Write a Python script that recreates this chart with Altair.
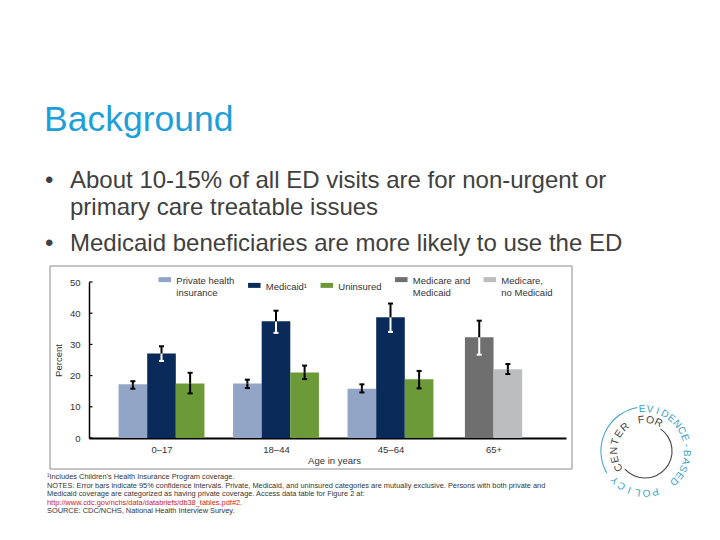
import json
import math
import altair as alt
import pandas as pd

# ---------------- data ----------------
groups = ["0–17", "18–44", "45–64", "65+"]
series = ["Private health insurance", "Medicaid¹", "Uninsured",
          "Medicare and Medicaid", "Medicare, no Medicaid"]
colors = ["#93a5c6", "#0a2b5a", "#6c9a38", "#6f6f70", "#bcbdbf"]

private_val = [17.2, 17.5, 15.8]
private_lo = [15.8, 16.0, 14.6]
private_hi = [18.2, 18.7, 17.2]
medicaid_val = [27.1, 37.4, 38.7]
medicaid_lo = [24.7, 33.7, 34.0]
medicaid_hi = [29.4, 40.8, 43.1]
uninsured_val = [17.5, 21.0, 18.8]
uninsured_lo = [14.3, 18.9, 15.9]
uninsured_hi = [20.9, 23.2, 21.5]
medicare_and_val = [32.3]
medicare_and_lo = [26.7]
medicare_and_hi = [37.6]
medicare_no_val = [22.0]
medicare_no_lo = [20.5]
medicare_no_hi = [23.7]

y_ticks = [0, 10, 20, 30, 40, 50]

legend_lines = {
    "Private health insurance": ["Private health", "insurance"],
    "Medicaid¹": ["Medicaid¹"],
    "Uninsured": ["Uninsured"],
    "Medicare and Medicaid": ["Medicare and", "Medicaid"],
    "Medicare, no Medicaid": ["Medicare,", "no Medicaid"],
}

title_text = "Background"
bullet_lines = [
    "About 10-15% of all ED visits are for non-urgent or",
    "primary care treatable issues",
    "Medicaid beneficiaries are more likely to use the ED",
]
footnotes = [
    "¹Includes Children's Health Insurance Program coverage.",
    "NOTES: Error bars indicate 95% confidence intervals. Private, Medicaid, and uninsured categories are mutually exclusive. Persons with both private and",
    "Medicaid coverage are categorized as having private coverage. Access data table for Figure 2 at:",
    "http://www.cdc.gov/nchs/data/databriefs/db38_tables.pdf#2.",
    "SOURCE: CDC/NCHS, National Health Interview Survey.",
]
logo_outer = "EVIDENCE-BASED"
logo_bottom = "POLICY"
logo_inner = "CENTER FOR"

# ---------------- layout ----------------
group_center = [0, 1, 2, 2.9]
bar_w = 0.25
cap_half = 0.022
dark = {"Medicaid¹", "Medicare and Medicaid"}
FONT = "Liberation Sans"

rows = []
def add(gi, s, off, v, lo, hi):
    xc = group_center[gi] + off * bar_w
    rows.append(dict(group=groups[gi], series=s, value=v, lo=lo, hi=hi,
                     xc=xc, xl=xc - bar_w / 2, xr=xc + bar_w / 2,
                     cl=xc - cap_half, cr=xc + cap_half,
                     lowc="#ffffff" if s in dark else "#000000"))

for i in range(3):
    add(i, series[0], -1, private_val[i], private_lo[i], private_hi[i])
    add(i, series[1], 0, medicaid_val[i], medicaid_lo[i], medicaid_hi[i])
    add(i, series[2], 1, uninsured_val[i], uninsured_lo[i], uninsured_hi[i])
add(3, series[3], -0.5, medicare_and_val[0], medicare_and_lo[0], medicare_and_hi[0])
add(3, series[4], 0.5, medicare_no_val[0], medicare_no_lo[0], medicare_no_hi[0])
df = pd.DataFrame(rows)

xdom = [-0.6332, 3.5328]
xs = alt.Scale(domain=xdom, nice=False, zero=False)
ys = alt.Scale(domain=[0, 50], nice=False)

mids = [(group_center[i] + group_center[i + 1]) / 2 for i in range(len(groups) - 1)]
expr = f"'{groups[-1]}'"
for i in range(len(mids) - 1, -1, -1):
    expr = f"datum.value < {mids[i]} ? '{groups[i]}' : ({expr})"

label_expr = "(" + json.dumps(legend_lines, ensure_ascii=False) + ")[datum.label]"

x_axis = alt.Axis(
    values=group_center, labelExpr=expr, ticks=False, grid=False,
    domainColor="#000000", domainWidth=2, labelPadding=6,
    labelFont=FONT, labelFontSize=9.5, labelColor="#333333",
    labelOverlap=False,
    title="Age in years", titleFont=FONT, titleFontSize=9.5,
    titleFontWeight="normal", titleColor="#333333",
    titleX=245, titleY=25, titleBaseline="alphabetic")
y_axis = alt.Axis(
    values=y_ticks, ticks=False, grid=False, domainColor="#000000",
    domainWidth=1.5, labelPadding=9, labelFont=FONT, labelFontSize=9.5,
    labelColor="#333333", labelOverlap=False, title="Percent", titleFont=FONT,
    titleFontSize=9.5, titleFontWeight="normal", titleColor="#333333",
    titleX=-26, titleY=78)

def X(f):
    return alt.X(f, scale=xs, axis=x_axis)

def Y(f):
    return alt.Y(f, scale=ys, axis=y_axis)

bars = alt.Chart(df).mark_bar().encode(
    x=X("xl:Q"),
    x2="xr:Q",
    y=Y("value:Q"),
    y2=alt.datum(0),
    color=alt.Color("series:N", scale=alt.Scale(domain=series, range=colors),
                    legend=alt.Legend(
                        orient="none", legendX=69.3, legendY=-4.5,
                        direction="horizontal", columns=5, title=None,
                        symbolType="M-1,-1.14H1V-0.34H-1Z", symbolSize=156,
                        symbolStrokeWidth=0, symbolOpacity=1,
                        labelFont=FONT, labelFontSize=9.5, labelColor="#333333",
                        labelOffset=5, columnPadding=12.5, labelLimit=0,
                        labelBaseline="alphabetic", padding=0,
                        labelExpr=label_expr)),
)

err_low = alt.Chart(df).mark_rule(strokeWidth=2).encode(
    x=X("xc:Q"), y=Y("lo:Q"), y2="value:Q", stroke=alt.Stroke("lowc:N", scale=None))
err_high = alt.Chart(df).mark_rule(strokeWidth=2, color="#000000").encode(
    x=X("xc:Q"), y=Y("value:Q"), y2="hi:Q")
cap_low = alt.Chart(df).mark_rule(strokeWidth=2).encode(
    x=X("cl:Q"), x2="cr:Q", y=Y("lo:Q"), stroke=alt.Stroke("lowc:N", scale=None))
cap_high = alt.Chart(df).mark_rule(strokeWidth=2, color="#000000").encode(
    x=X("cl:Q"), x2="cr:Q", y=Y("hi:Q"))

tick_df = pd.DataFrame({"t": y_ticks})
ticks = alt.Chart(tick_df).mark_rule(strokeWidth=1.2, color="#000000").encode(
    y=Y("t:Q"), x=alt.value(0), x2=alt.value(3.5))

one = pd.DataFrame({"a": [0]})
box = alt.Chart(one).mark_rect(fillOpacity=0, stroke="#8c8c8c", strokeWidth=1).encode(
    x=alt.value(-39), x2=alt.value(483), y=alt.value(-16), y2=alt.value(187))

def txt(text, x, y, size, color, **kw):
    return alt.Chart(pd.DataFrame({"t": [text]})).mark_text(
        align="left", baseline="alphabetic", font=FONT, fontSize=size,
        color=color, **kw).encode(text="t:N", x=alt.value(x), y=alt.value(y))

texts = [txt(title_text, -45, -151, 35.5, "#1f9fd8")]
body = "#404040"
texts.append(txt("•", -44, -94, 24, body))
texts.append(txt(bullet_lines[0], -19, -94, 24, body))
texts.append(txt(bullet_lines[1], -19, -67, 24, body))
texts.append(txt("•", -44, -31, 24, body))
texts.append(txt(bullet_lines[2], -19, -31, 24, body))
foot_y = [197, 205.5, 214, 222.5, 231]
for i, line in enumerate(footnotes):
    texts.append(txt(line, -42, foot_y[i], 7.4, "#cc2222" if i == 3 else "#333333"))

# ---------------- logo ----------------
cx, cy = 556, 169
letters = []
def put(word, start, step, r, color, size):
    for k, ch in enumerate(word):
        th = start + step * k
        rad = math.radians(th)
        letters.append(dict(ch=ch, lx=cx + r * math.sin(rad), ly=cy - r * math.cos(rad),
                            rot=th % 360, col=color, fs=size))
put(logo_outer, -4, 10.8, 42, "#3a9fc9", 10)
put(logo_bottom, 166, 12, 42, "#3a9fc9", 10)
put(logo_inner, 238, 16.4, 31, "#444444", 10.5)
ldf = pd.DataFrame(letters)
logo_text = alt.Chart(ldf).mark_text(align="center", baseline="middle", font=FONT).encode(
    x=alt.X("lx:Q", scale=None, axis=None), y=alt.Y("ly:Q", scale=None, axis=None),
    text="ch:N", angle=alt.Angle("rot:Q", scale=None),
    color=alt.Color("col:N", scale=None), size=alt.Size("fs:Q", scale=None))

arc_outer = alt.Chart(one).mark_arc(color="#3a9fc9").encode(
    x=alt.value(cx), y=alt.value(cy), theta=alt.value(math.radians(240)),
    theta2=alt.value(math.radians(350)), radius=alt.value(44.6), radius2=alt.value(43.6))
arc_inner = alt.Chart(one).mark_arc(color="#444444").encode(
    x=alt.value(cx), y=alt.value(cy), theta=alt.value(math.radians(35)),
    theta2=alt.value(math.radians(228)), radius=alt.value(27.6), radius2=alt.value(26.5))

chart = alt.layer(
    box, bars, err_low, err_high, cap_low, cap_high, ticks,
    *texts, arc_outer, arc_inner, logo_text
).properties(
    width=477, height=156,
    autosize=alt.AutoSizeParams(type="none"),
    padding={"left": 81, "top": 274, "right": 146, "bottom": 92},
    background="#ffffff",
).configure_view(stroke=None)

chart.save("out.html", embed_options={"renderer": "svg", "actions": False})
